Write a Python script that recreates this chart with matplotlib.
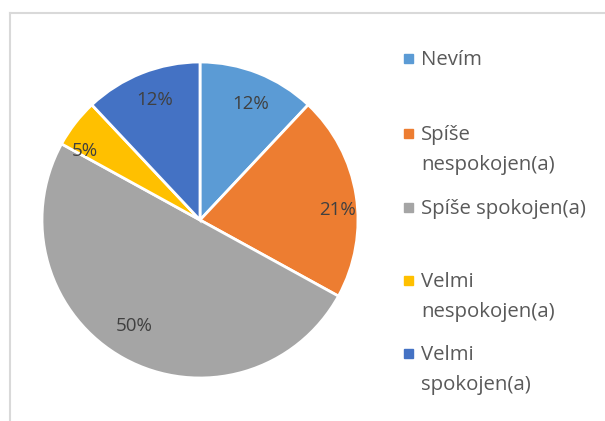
import matplotlib
matplotlib.use("Agg")
import matplotlib.pyplot as plt
from matplotlib.lines import Line2D
from matplotlib.patches import Rectangle
import numpy as np

categories = ["Nevím", "Spíše nespokojen(a)", "Spíše spokojen(a)", "Velmi nespokojen(a)", "Velmi spokojen(a)"]
legend_lines = [["Nevím"], ["Spíše", "nespokojen(a)"], ["Spíše spokojen(a)"],
                ["Velmi", "nespokojen(a)"], ["Velmi", "spokojen(a)"]]
values = [12, 21, 50, 5, 12]
colors = ["#5B9BD5", "#ED7D31", "#A5A5A5", "#FFC000", "#4472C4"]

# label placement tweaks (layout only): radial distance and angular offset (deg) from wedge middle
label_r = [0.80, 0.87, 0.79, 0.85, 0.81]
label_dang = [-2, -5, -3, 7, -1]

plt.rcParams['font.family'] = ['Open Sans', 'DejaVu Sans']
W, H = 605, 421
fig = plt.figure(figsize=(W/100, H/100), dpi=100)

# chart border (partially cropped)
fig.add_artist(Line2D([10/W, 1.0], [1-13/H, 1-13/H], color="#D9D9D9", lw=1.5, transform=fig.transFigure))
fig.add_artist(Line2D([10/W, 10/W], [1-13/H, 0.0], color="#D9D9D9", lw=1.5, transform=fig.transFigure))

cx, cy, R = 200, 220, 158
ax = fig.add_axes([(cx-R)/W, (H-cy-R)/H, 2*R/W, 2*R/H])
wedges, texts, autotexts = ax.pie(values, colors=colors, startangle=90, counterclock=False,
                                  autopct=lambda p: f"{p:.0f}%", pctdistance=0.82,
                                  wedgeprops=dict(edgecolor="white", linewidth=2),
                                  textprops=dict(color="#404040", fontsize=13.5))
for w, t, r, da in zip(wedges, autotexts, label_r, label_dang):
    mid = np.deg2rad((w.theta1 + w.theta2) / 2 + da)
    t.set_position((r * np.cos(mid), r * np.sin(mid)))
ax.set_xlim(-1, 1)
ax.set_ylim(-1, 1)
ax.set_aspect('auto')
ax.axis('off')

# legend
first_line_y = [58, 133, 207, 280, 353]
line_gap = 30
for lines, col, y in zip(legend_lines, colors, first_line_y):
    fig.add_artist(Rectangle(((408-4.5)/W, (H-y-4.5)/H), 9/W, 9/H, color=col,
                             transform=fig.transFigure))
    for i, ln in enumerate(lines):
        fig.text(421/W, (H-(y + 7 + i*line_gap))/H, ln, fontsize=14.7, color="#595959",
                 va='baseline', ha='left', transform=fig.transFigure)

fig.savefig("out.png", dpi=100)
